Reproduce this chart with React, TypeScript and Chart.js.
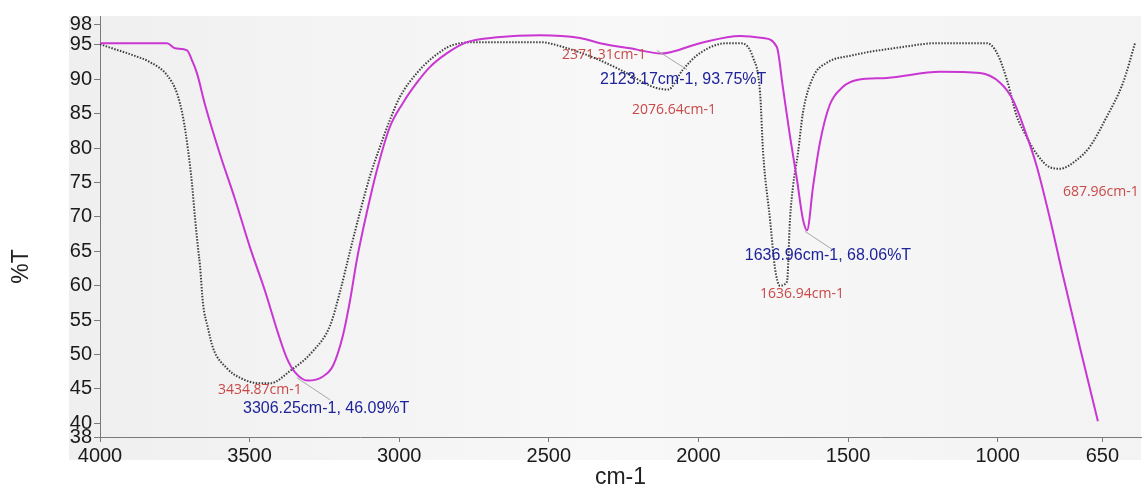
import React, { useEffect, useRef } from "react";
import { Chart, registerables } from "chart.js";

Chart.register(...registerables);

// Magenta spectrum (wavenumber cm-1, %T)
const magentaWavenumber = [4000, 3776, 3749, 3709, 3693, 3676, 3649, 3599, 3549, 3499, 3449, 3405, 3375, 3348, 3306, 3255, 3221, 3188, 3165, 3141, 3108, 3074, 3031, 2987, 2941, 2897, 2840, 2774, 2673, 2530, 2396, 2329, 2229, 2123, 1995, 1861, 1784, 1738, 1718, 1694, 1671, 1651, 1637, 1617, 1594, 1561, 1517, 1470, 1370, 1193, 1059, 992, 949, 902, 869, 825, 782, 725, 665];
const magentaTransmittance = [95.25, 95.25, 94.5, 94.2, 92.8, 90.9, 86.3, 79.1, 72.6, 65.6, 59.3, 53.1, 49.4, 47.4, 46.2, 46.8, 48.4, 52.8, 57.7, 63.9, 70.7, 76.9, 83.1, 86.6, 89.5, 91.8, 93.8, 95.4, 96.1, 96.4, 96.0, 95.25, 94.5, 93.75, 95.25, 96.3, 96.0, 94.7, 88.9, 81.7, 75.5, 69.7, 68.06, 74.4, 80.8, 86.3, 88.9, 89.9, 90.2, 91.1, 90.9, 89.5, 87.0, 81.7, 77.3, 69.7, 61.5, 51.0, 40.3];

// Black dotted spectrum (wavenumber cm-1, %T)
const blackWavenumber = [4000, 3973, 3890, 3833, 3776, 3743, 3723, 3706, 3693, 3683, 3672, 3666, 3656, 3639, 3622, 3576, 3532, 3465, 3432, 3365, 3288, 3231, 3198, 3165, 3131, 3098, 3064, 3031, 2997, 2941, 2887, 2820, 2730, 2530, 2453, 2353, 2262, 2152, 2102, 2052, 1995, 1905, 1861, 1818, 1794, 1784, 1761, 1744, 1728, 1704, 1694, 1684, 1667, 1651, 1617, 1571, 1484, 1317, 1203, 1036, 1002, 969, 936, 916, 869, 825, 792, 735, 692, 635, 581, 541];
const blackTransmittance = [95.1, 94.7, 93.5, 92.5, 90.6, 88.0, 84.6, 79.8, 75.0, 70.1, 65.3, 63.0, 57.5, 53.8, 50.9, 48.0, 46.6, 45.8, 45.8, 47.6, 50.5, 54.2, 59.1, 64.9, 70.7, 75.9, 80.2, 84.1, 87.5, 90.9, 93.2, 95.0, 95.4, 95.4, 94.7, 93.2, 91.4, 88.9, 88.5, 91.4, 93.8, 95.25, 95.25, 93.2, 88.0, 79.4, 69.7, 62.5, 60.0, 60.6, 69.7, 74.4, 79.4, 85.1, 90.3, 92.4, 93.5, 94.7, 95.25, 95.25, 93.8, 89.9, 84.6, 82.7, 79.1, 77.2, 77.0, 78.3, 80.2, 84.6, 89.5, 95.25];

const xTicks = [4000, 3500, 3000, 2500, 2000, 1500, 1000, 650];
const yTicks = [38, 40, 45, 50, 55, 60, 65, 70, 75, 80, 85, 90, 95, 98];

const annotationTexts = ["2371.31cm-1", "2123.17cm-1, 93.75%T", "2076.64cm-1", "3434.87cm-1", "3306.25cm-1, 46.09%T", "1636.96cm-1, 68.06%T", "1636.94cm-1", "687.96cm-1"];
const annotationKinds = ["peak", "pick", "peak", "peak", "pick", "pick", "peak", "peak"];
const annotationWavenumber = [2456, 2329, 2222, 3606, 3522, 1845, 1794, 782];
const annotationTransmittance = [93.5, 89.9, 85.6, 44.8, 42.2, 64.3, 58.8, 73.6];

const leaderFromWn = [3342, 2139, 1644];
const leaderFromT = [46.6, 94.2, 67.9];
const leaderToWn = [3231, 2038, 1554];
const leaderToT = [43.4, 91.4, 65.3];

export default function App() {
  const ref = useRef<HTMLCanvasElement>(null);

  useEffect(() => {
    if (!ref.current) return;
    const magentaData = magentaWavenumber.map((x, i) => ({ x, y: magentaTransmittance[i] }));
    const blackData = blackWavenumber.map((x, i) => ({ x, y: blackTransmittance[i] }));

    const decor = {
      id: "decor",
      beforeDraw(chart: any) {
        const { ctx, chartArea } = chart;
        ctx.save();
        ctx.fillStyle = "#ffffff";
        ctx.fillRect(0, 0, chart.width, chart.height);
        const g = ctx.createLinearGradient(chartArea.left - 31, 0, chartArea.right, 0);
        g.addColorStop(0, "#efefef");
        g.addColorStop(0.5, "#f8f8f8");
        g.addColorStop(1, "#f3f3f3");
        ctx.fillStyle = g;
        ctx.fillRect(chartArea.left - 31, chartArea.top, chartArea.right - chartArea.left + 31, chartArea.bottom - chartArea.top + 23);
        ctx.restore();
      },
      afterDraw(chart: any) {
        const { ctx, chartArea, scales } = chart;
        const xs = scales.x;
        const ys = scales.y;
        ctx.save();
        ctx.strokeStyle = "#a8a8a8";
        ctx.lineWidth = 1;
        leaderFromWn.forEach((w, i) => {
          ctx.beginPath();
          ctx.moveTo(xs.getPixelForValue(w), ys.getPixelForValue(leaderFromT[i]));
          ctx.lineTo(xs.getPixelForValue(leaderToWn[i]), ys.getPixelForValue(leaderToT[i]));
          ctx.stroke();
        });
        ctx.textBaseline = "middle";
        ctx.textAlign = "left";
        annotationTexts.forEach((t, i) => {
          if (annotationKinds[i] === "pick") {
            ctx.fillStyle = "#1f2399";
            ctx.font = "16px Arial, 'Liberation Sans', sans-serif";
          } else {
            ctx.fillStyle = "#c94848";
            ctx.font = "14px 'Open Sans', sans-serif";
          }
          ctx.fillText(t, xs.getPixelForValue(annotationWavenumber[i]), ys.getPixelForValue(annotationTransmittance[i]));
        });
        ctx.fillStyle = "#222";
        ctx.font = "23px Arial, 'Liberation Sans', sans-serif";
        ctx.textAlign = "center";
        ctx.fillText("cm-1", (chartArea.left + chartArea.right) / 2, chartArea.bottom + 41);
        ctx.translate(22, (chartArea.top + chartArea.bottom) / 2 + 40);
        ctx.rotate(-Math.PI / 2);
        ctx.fillText("%T", 0, 0);
        ctx.restore();
      },
    };

    const chart = new Chart(ref.current, {
      type: "line",
      data: {
        datasets: [
          {
            label: "Magenta",
            data: magentaData,
            borderColor: "#c936d2",
            borderWidth: 2,
            pointRadius: 0,
            cubicInterpolationMode: "monotone",
          },
          {
            label: "Black",
            data: blackData,
            borderColor: "rgba(30,30,30,0.85)",
            borderWidth: 2,
            borderDash: [1.5, 1.5],
            pointRadius: 0,
            cubicInterpolationMode: "monotone",
          },
        ],
      },
      plugins: [decor],
      options: {
        responsive: false,
        animation: false,
        layout: { padding: { top: 16, right: 2, left: 0, bottom: 0 } },
        plugins: { legend: { display: false }, tooltip: { enabled: false } },
        scales: {
          x: {
            type: "linear",
            reverse: true,
            min: 521,
            max: 4000,
            afterBuildTicks: (s: any) => {
              s.ticks = xTicks.map((v) => ({ value: v }));
            },
            afterFit: (s: any) => {
              s.height = 50;
            },
            grid: { drawOnChartArea: false, drawTicks: true, tickLength: 5, color: "#7a7a7a" },
            border: { display: true, color: "#7a7a7a" },
            ticks: {
              autoSkip: false,
              maxRotation: 0,
              padding: 2,
              color: "#1a1a1a",
              font: { family: "Arial, 'Liberation Sans', sans-serif", size: 20 },
              callback: (v: any) => String(v),
            },
          },
          y: {
            type: "linear",
            min: 38,
            max: 99.2,
            afterBuildTicks: (s: any) => {
              s.ticks = yTicks.map((v) => ({ value: v }));
            },
            afterFit: (s: any) => {
              s.width = 100;
            },
            grid: { drawOnChartArea: false, drawTicks: true, tickLength: 6, color: "#7a7a7a" },
            border: { display: true, color: "#7a7a7a" },
            ticks: {
              autoSkip: false,
              padding: 2,
              color: "#1a1a1a",
              font: { family: "Arial, 'Liberation Sans', sans-serif", size: 20 },
              callback: (v: any) => String(v),
            },
          },
        },
      },
    } as any);
    return () => chart.destroy();
  }, []);

  return (
    <div style={{ position: "fixed", left: 0, top: 0, width: 1143, height: 487, background: "#fff" }}>
      <canvas ref={ref} width={1143} height={487} />
    </div>
  );
}
